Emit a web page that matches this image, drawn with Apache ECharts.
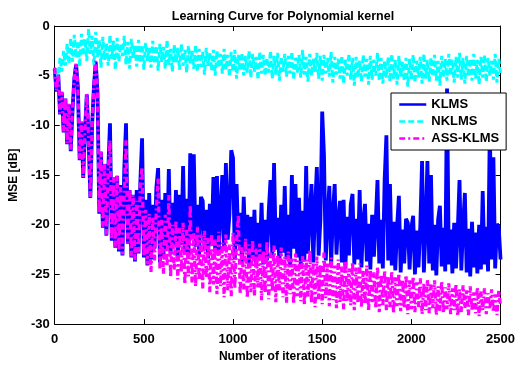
<!DOCTYPE html>
<html>
<head>
<meta charset="utf-8">
<script src="https://cdn.jsdelivr.net/npm/echarts@6/dist/echarts.min.js"></script>
<style>html,body{margin:0;padding:0;background:#fff}#c{width:518px;height:368px}</style>
</head>
<body>
<div id="c"></div>
<script>
// sampled every 10 iterations, from 0 to 2500
const iterStep = 10;
const xTicks = [0, 500, 1000, 1500, 2000, 2500];
const yTicks = [-30, -25, -20, -15, -10, -5, 0];
const seriesNames = ['KLMS', 'NKLMS', 'ASS-KLMS'];

const klms = [
-4.3,-6.6,-4.9,-8.9,-6.7,-10.7,-7.3,-11.9,-7.9,-12.6,
-8.5,-5.3,-3.9,-6.1,-13.5,-9.7,-15.3,-10.5,-6.9,-11.3,
-17.3,-9.9,-6.1,-3.6,-6.6,-18.9,-12.7,-20.3,-13.9,-21.1,
-14.7,-9.8,-21.6,-15.3,-22.3,-15.1,-22.7,-16.0,-23.1,-14.5,
-9.8,-21.9,-16.5,-23.3,-17.0,-23.7,-16.5,-22.9,-15.8,-11.3,
-23.3,-17.5,-24.1,-16.8,-23.5,-18.0,-22.4,-16.3,-14.3,-23.8,
-17.5,-23.2,-16.8,-22.5,-14.4,-23.0,-17.8,-22.1,-16.5,-23.4,
-17.0,-22.0,-14.1,-22.8,-17.4,-23.2,-12.8,-21.0,-12.9,-22.2,
-18.0,-23.0,-17.2,-17.6,-22.5,-18.5,-23.4,-17.9,-22.0,-15.2,
-22.8,-15.1,-23.0,-18.4,-15.0,-22.6,-13.8,-21.5,-18.9,-12.5,
-13.3,-23.5,-15.9,-22.0,-18.8,-23.8,-17.2,-22.6,-19.0,-24.0,
-19.2,-23.4,-18.5,-24.2,-19.8,-23.0,-17.8,-24.0,-19.5,-23.6,
-18.7,-15.5,-23.2,-13.8,-22.5,-19.3,-23.9,-18.0,-22.8,-16.1,
-23.5,-19.0,-24.1,-15.0,-22.4,-15.9,-23.3,-17.3,-24.0,-18.6,
-23.7,-14.1,-22.9,-19.1,-15.9,-23.8,-18.4,-14.2,-23.1,-19.5,
-8.6,-13.0,-23.6,-19.3,-16.1,-24.2,-18.8,-15.9,-23.0,-19.6,
-17.6,-23.8,-17.5,-24.4,-19.2,-23.1,-18.0,-16.9,-24.0,-19.4,
-23.5,-16.5,-24.3,-19.6,-17.9,-23.7,-19.9,-24.5,-19.0,-23.2,
-19.8,-15.5,-23.9,-19.5,-24.4,-15.5,-11.0,-23.6,-15.9,-24.1,
-19.7,-24.6,-20.2,-17.1,-24.8,-20.5,-23.9,-19.4,-19.8,-24.5,
-20.3,-19.1,-25.0,-20.6,-24.3,-20.1,-13.6,-24.8,-20.4,-13.6,
-23.9,-15.0,-24.6,-20.0,-25.1,-19.5,-18.1,-24.2,-20.3,-24.7,
-6.3,-24.0,-20.5,-24.9,-19.8,-24.4,-20.6,-15.5,-24.6,-20.1,
-16.8,-24.8,-20.4,-25.2,-19.7,-24.3,-20.8,-24.9,-20.0,-24.5,
-16.6,-24.0,-20.2,-24.7,-10.0,-23.5,-13.2,-24.4,-19.9,-20.3,
-23.5
];

const nklms = [
-4.8,-4.2,-5.5,-3.2,-4.6,-2.5,-4.0,-1.8,-3.8,-1.2,
-3.6,-0.9,-3.2,-1.5,-4.1,-0.8,-3.0,-1.3,-3.5,-0.3,
-2.8,-1.0,-3.9,-0.6,-3.1,-1.4,-4.2,-1.1,-3.4,-1.7,
-4.0,-0.9,-3.3,-1.5,-4.4,-1.2,-3.6,-1.8,-3.0,-1.0,
-3.9,-1.6,-4.3,-1.3,-3.2,-2.0,-4.1,-1.4,-3.7,-1.9,
-4.4,-1.7,-3.5,-2.2,-4.2,-1.5,-3.8,-2.0,-4.5,-1.8,
-3.6,-2.1,-4.3,-1.4,-3.9,-2.3,-4.6,-1.9,-3.7,-2.2,
-4.4,-1.8,-4.0,-2.4,-4.7,-2.0,-3.8,-2.5,-4.3,-1.9,
-4.6,-2.3,-4.1,-2.6,-4.9,-2.2,-4.0,-2.7,-4.5,-2.4,
-5.0,-2.5,-4.2,-2.8,-4.8,-2.3,-4.4,-2.9,-5.1,-2.6,
-4.6,-2.4,-5.3,-2.9,-4.5,-2.7,-5.0,-3.0,-4.7,-2.5,
-5.2,-2.8,-4.6,-3.1,-5.4,-2.6,-4.8,-2.9,-5.0,-3.2,
-4.7,-2.5,-5.3,-3.0,-4.9,-2.7,-5.5,-3.1,-4.6,-2.8,
-5.1,-3.0,-4.8,-2.6,-5.4,-3.2,-4.7,-2.9,-5.2,-2.4,
-4.9,-3.1,-5.6,-2.8,-5.0,-3.3,-4.6,-2.7,-5.3,-3.0,
-5.5,-2.9,-4.8,-3.2,-5.1,-2.6,-5.7,-3.1,-4.9,-3.3,
-5.3,-3.0,-5.8,-3.4,-5.0,-2.8,-5.4,-3.2,-6.0,-3.1,
-5.2,-3.5,-5.6,-2.9,-5.1,-3.3,-5.9,-3.0,-5.4,-3.4,
-5.0,-2.7,-5.5,-3.2,-5.8,-3.5,-5.2,-3.1,-5.6,-2.8,
-5.3,-3.4,-5.9,-3.0,-5.1,-3.6,-5.5,-3.2,-6.1,-3.3,
-5.4,-2.9,-5.7,-3.5,-5.2,-3.1,-5.8,-2.8,-5.3,-3.4,
-5.6,-3.2,-5.1,-2.9,-5.5,-3.5,-6.0,-3.0,-5.2,-3.3,
-5.5,-2.8,-5.0,-3.4,-5.7,-3.1,-5.2,-2.7,-5.4,-3.2,
-5.8,-3.0,-5.1,-3.3,-5.5,-2.8,-5.3,-3.4,-5.9,-3.1,
-5.2,-2.9,-5.6,-3.2,-5.0,-3.5,-5.4,-2.8,-5.7,-3.3,
-4.8
];

const assKlms = [
-4.2,-6.5,-4.8,-8.8,-6.6,-10.6,-7.2,-11.8,-7.8,-12.5,
-8.4,-5.2,-3.8,-6.0,-13.4,-9.6,-15.2,-10.4,-6.8,-11.2,
-17.2,-9.8,-6.0,-3.5,-6.5,-18.8,-12.6,-20.2,-13.8,-21.0,
-14.6,-11.5,-21.5,-15.2,-22.2,-15.0,-22.6,-16.2,-23.0,-16.8,
-11.5,-21.8,-16.4,-23.2,-17.0,-23.6,-17.6,-22.8,-15.8,-14.2,
-23.2,-18.5,-24.0,-18.9,-24.8,-19.2,-23.6,-18.3,-15.3,-24.5,
-19.5,-25.0,-19.0,-24.2,-17.0,-25.3,-20.0,-24.6,-19.6,-25.5,
-20.3,-24.8,-19.8,-26.0,-20.5,-25.2,-18.0,-25.8,-20.8,-26.2,
-20.2,-25.6,-21.0,-26.4,-20.6,-25.4,-21.3,-26.8,-20.9,-26.0,
-21.5,-27.0,-20.7,-26.2,-21.8,-27.3,-21.0,-26.6,-22.0,-27.2,
-20.8,-26.4,-21.6,-19.0,-27.0,-22.2,-26.5,-21.4,-27.4,-22.0,
-26.8,-21.5,-27.2,-22.4,-26.3,-21.9,-27.6,-22.6,-26.9,-21.7,
-27.5,-22.8,-26.7,-22.1,-27.8,-23.0,-26.6,-22.3,-27.3,-23.2,
-27.9,-22.7,-27.0,-23.4,-28.0,-22.9,-27.2,-23.6,-27.7,-23.1,
-28.1,-23.5,-27.3,-22.6,-27.9,-23.8,-28.3,-23.2,-27.5,-24.0,
-28.0,-22.8,-27.4,-23.9,-28.2,-23.3,-27.6,-24.1,-28.4,-23.5,
-27.8,-24.2,-28.5,-23.6,-27.7,-24.4,-28.1,-23.8,-28.6,-24.3,
-27.9,-23.9,-28.3,-24.6,-28.0,-24.1,-28.7,-24.5,-27.8,-24.8,
-28.4,-24.2,-28.8,-25.0,-28.1,-24.6,-28.6,-25.2,-28.3,-24.7,
-28.9,-25.3,-28.2,-24.9,-28.7,-25.5,-28.4,-25.1,-29.0,-25.6,
-28.5,-25.2,-28.8,-25.8,-28.3,-25.4,-29.0,-25.9,-28.6,-25.5,
-28.9,-26.0,-28.4,-25.6,-29.1,-26.2,-28.7,-25.7,-28.9,-26.3,
-28.5,-25.9,-29.0,-26.4,-28.6,-26.0,-29.2,-26.5,-28.8,-26.1,
-28.4,-26.6,-29.1,-26.2,-28.7,-26.8,-28.9,-26.3,-29.2,-26.7,
-28.6,-26.4,-29.0,-26.9,-28.5,-26.5,-28.8,-27.0,-29.1,-26.6,
-28.2
];

function pairs(vals) { return vals.map((v, i) => [i * iterStep, v]); }

const FONT = '"Liberation Sans", Arial, Helvetica, sans-serif';
const chart = echarts.init(document.getElementById('c'), null, {renderer: 'canvas'});

const commonX = {
  type: 'value', min: xTicks[0], max: xTicks[xTicks.length - 1], interval: 500,
  axisLine: {show: true, onZero: false, lineStyle: {color: '#000', width: 1}},
  axisTick: {show: true, inside: true, length: 5, lineStyle: {color: '#000'}},
  splitLine: {show: false}
};
const commonY = {
  type: 'value', min: yTicks[0], max: yTicks[yTicks.length - 1], interval: 5,
  axisLine: {show: true, onZero: false, lineStyle: {color: '#000', width: 1}},
  axisTick: {show: true, inside: true, length: 5, lineStyle: {color: '#000'}},
  splitLine: {show: false}
};

chart.setOption({
  animation: false,
  backgroundColor: '#fff',
  title: {
    text: 'Learning Curve for Polynomial kernel',
    left: 278, top: 5, textAlign: 'center',
    textStyle: {fontFamily: FONT, fontWeight: 'bold', fontSize: 12.5, color: '#000'}
  },
  grid: {left: 54, right: 14, top: 26, bottom: 37, containLabel: false},
  legend: {
    data: seriesNames,
    orient: 'vertical',
    left: 391, top: 93,
    padding: [5, 7, 5, 7],
    itemGap: 4, itemWidth: 27, itemHeight: 14,
    backgroundColor: '#fff', borderColor: '#000', borderWidth: 1, borderRadius: 0,
    itemStyle: {opacity: 0},
    lineStyle: {width: 2.5},
    textStyle: {fontFamily: FONT, fontWeight: 'bold', fontSize: 13, color: '#000'}
  },
  xAxis: [
    Object.assign({}, commonX, {
      position: 'bottom',
      name: 'Number of iterations', nameLocation: 'middle', nameGap: 23,
      nameTextStyle: {fontFamily: FONT, fontWeight: 'bold', fontSize: 12, color: '#000'},
      axisLabel: {show: true, margin: 9, fontFamily: FONT, fontWeight: 'bold', fontSize: 13, color: '#000',
                  formatter: v => String(v)}
    }),
    Object.assign({}, commonX, {position: 'top', axisLabel: {show: false}})
  ],
  yAxis: [
    Object.assign({}, commonY, {
      position: 'left',
      name: 'MSE [dB]', nameLocation: 'middle', nameGap: 25, nameRotate: 90,
      nameTextStyle: {fontFamily: FONT, fontWeight: 'bold', fontSize: 12, color: '#000'},
      axisLabel: {show: true, margin: 5, fontFamily: FONT, fontWeight: 'bold', fontSize: 13, color: '#000',
                  formatter: v => String(v)}
    }),
    Object.assign({}, commonY, {position: 'right', axisLabel: {show: false}})
  ],
  series: [
    {name: seriesNames[0], type: 'line', data: pairs(klms), symbol: 'none', xAxisIndex: 0, yAxisIndex: 0,
     lineStyle: {color: '#0000ff', width: 3.8}, itemStyle: {color: '#0000ff'}},
    {name: seriesNames[1], type: 'line', data: pairs(nklms), symbol: 'none', xAxisIndex: 0, yAxisIndex: 0,
     lineStyle: {color: '#00ffff', width: 3, type: [6, 3]}, itemStyle: {color: '#00ffff'}},
    {name: seriesNames[2], type: 'line', data: pairs(assKlms), symbol: 'none', xAxisIndex: 0, yAxisIndex: 0,
     lineStyle: {color: '#ff00ff', width: 3.2, type: [6, 3, 2, 3]}, itemStyle: {color: '#ff00ff'}}
  ]
});
</script>
</body>
</html>
